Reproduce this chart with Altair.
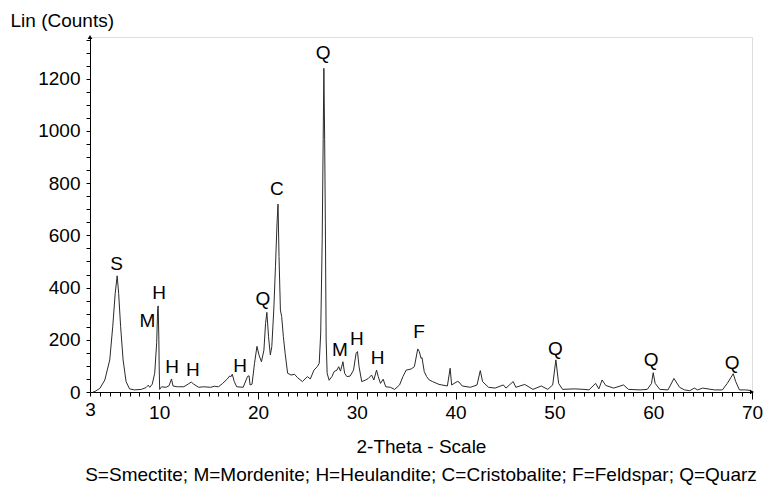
import altair as alt
import pandas as pd

# ---- data ----
two_theta = [3.3, 3.5, 4.0, 4.5, 5.0, 5.3, 5.55, 5.75, 5.9, 6.1, 6.35, 6.65, 7.0, 7.5, 8.2,
             8.67, 8.9, 9.05, 9.3, 9.55, 9.75, 9.85, 9.9, 9.97, 10.0, 10.05, 10.25, 10.7, 11.0,
             11.25, 11.4, 11.85, 12.5, 13.0, 13.25, 13.5, 14.0, 14.5, 15.2, 15.6, 16.0, 16.4,
             16.9, 17.15, 17.25, 17.4, 17.6, 17.85, 18.5, 18.95, 19.1, 19.2, 19.4, 19.65, 19.9,
             20.1, 20.35, 20.6, 20.77, 20.9, 21.07, 21.25, 21.4, 21.6, 21.77, 21.93, 22.03,
             22.13, 22.27, 22.4, 22.57, 22.75, 23.0, 23.35, 23.7, 24.0, 24.5, 25.0, 25.3, 25.67,
             26.0, 26.2, 26.35, 26.5, 26.6, 26.67, 26.75, 26.82, 26.9, 27.0, 27.2, 27.5, 27.7,
             28.0, 28.17, 28.35, 28.6, 28.77, 29.0, 29.33, 29.67, 29.93, 30.07, 30.23, 30.5,
             30.85, 31.17, 31.5, 31.73, 32.0, 32.17, 32.4, 32.67, 32.93, 33.4, 33.83, 34.33,
             34.67, 35.0, 35.5, 35.83, 36.17, 36.33, 36.5, 36.6, 36.83, 37.07, 37.33, 37.67,
             38.33, 39.17, 39.45, 39.6, 40.17, 40.35, 40.67, 41.5, 42.17, 42.5, 42.73, 43.33,
             44.0, 44.83, 45.1, 45.83, 46.1, 47.0, 47.83, 48.67, 49.33, 49.83, 50.15, 50.43,
             50.83, 52.0, 53.0, 53.5, 54.17, 54.5, 54.83, 55.2, 56.0, 57.0, 57.5, 58.67, 59.4,
             59.83, 60.0, 60.2, 60.67, 61.5, 62.1, 62.67, 63.17, 63.7, 64.17, 64.5, 65.0, 66.2,
             67.0, 67.5, 68.1, 68.35, 68.73, 69.33, 69.83]
counts = [0, 2, 14, 46, 123, 250, 378, 445, 378, 250, 123, 40, 12, 8, 10,
          17, 26, 18, 30, 72, 190, 320, 330, 200, 100, 10, 20, 18, 24,
          50, 23, 20, 20, 32, 38, 30, 18, 20, 18, 22, 20, 32,
          50, 62, 58, 68, 40, 20, 18, 60, 62, 27, 30, 110, 175,
          142, 116, 160, 263, 305, 212, 142, 174, 314, 480, 647, 720,
          519, 314, 289, 212, 148, 72, 65, 68, 55, 40, 59, 50, 84,
          97, 110, 226, 583, 966, 1240, 966, 647, 199, 72, 45, 60, 78,
          84, 97, 80, 116, 72, 59, 61, 84, 148, 155, 97, 40,
          45, 52, 65, 46, 84, 59, 33, 49, 20, 18, 10, 27,
          59, 84, 88, 97, 165, 155, 129, 132, 78, 59, 46, 40,
          29, 23, 91, 27, 40, 38, 23, 18, 27, 82, 40, 18,
          15, 27, 15, 40, 18, 29, 10, 23, 10, 27, 123, 33,
          10, 12, 10, 8, 33, 12, 46, 25, 15, 27, 10, 8, 10,
          33, 74, 33, 10, 8, 52, 18, 8, 5, 15, 8, 15, 8,
          8, 33, 70, 40, 8, 8, 6]

peak_labels = ["S", "M", "H", "H", "H", "H", "Q", "C", "Q", "M", "H", "H", "F", "Q", "Q", "Q"]
peak_x = [5.7, 8.8, 10.0, 11.3, 13.4, 18.2, 20.5, 21.9, 26.6, 28.3, 30.0, 32.1, 36.3, 50.1, 59.8, 68.0]
peak_y = [490, 272, 380, 96, 84, 100, 357, 778, 1300, 161, 203, 130, 230, 165, 123, 111]

x_label_values = [3, 10, 20, 30, 40, 50, 60, 70]
y_label_values = [0, 200, 400, 600, 800, 1000, 1200]
x_tick_values = list(range(3, 71))
y_tick_values = list(range(0, 1351, 50))

arrow_x = [3, 70]
arrow_y = [1360, 0]
arrow_shape = ["triangle-up", "triangle-right"]

caption = "S=Smectite; M=Mordenite; H=Heulandite; C=Cristobalite; F=Feldspar; Q=Quarz"

FONT = "Liberation Sans"
FS = 19

spec = pd.DataFrame({"theta": two_theta, "counts": counts})
labs = pd.DataFrame({"label": peak_labels, "theta": peak_x, "counts": peak_y})
arrows = pd.DataFrame({"theta": arrow_x, "counts": arrow_y, "shape": arrow_shape})

xscale = alt.Scale(domain=[3, 70], nice=False, zero=False)
yscale = alt.Scale(domain=[0, 1360], nice=False, zero=True)

x_label_expr = "indexof([" + ",".join(str(v) for v in x_label_values) + "], datum.value) >= 0 ? datum.label : ''"
y_label_expr = "indexof([" + ",".join(str(v) for v in y_label_values) + "], datum.value) >= 0 ? datum.label : ''"

xaxis = alt.Axis(
    values=x_tick_values,
    format="d",
    labelExpr=x_label_expr,
    labelOverlap=False,
    labelFlush=False,
    labelFont=FONT,
    labelFontSize=FS,
    labelColor="black",
    labelPadding=4,
    tickSize={"condition": {"test": "datum.value % 10 == 0", "value": 7}, "value": 4},
    tickColor="black",
    domainColor="black",
    grid=False,
    title="2-Theta - Scale",
    titleFont=FONT,
    titleFontSize=FS,
    titleFontWeight="normal",
    titleColor="black",
    titlePadding=15,
)

yaxis = alt.Axis(
    values=y_tick_values,
    format="d",
    labelExpr=y_label_expr,
    labelOverlap=False,
    labelFont=FONT,
    labelFontSize=FS,
    labelColor="black",
    labelPadding=6,
    tickSize=4,
    tickColor="black",
    domainColor="black",
    grid=False,
    title="Lin (Counts)",
    titleFont=FONT,
    titleFontSize=FS,
    titleFontWeight="normal",
    titleColor="black",
    titleAngle=0,
    titleAlign="left",
    titleBaseline="middle",
    titleX=-80,
    titleY=-17,
)

X = alt.X("theta:Q", scale=xscale, axis=xaxis)
Y = alt.Y("counts:Q", scale=yscale, axis=yaxis)

line = alt.Chart(spec).mark_line(color="#2a2a2a", strokeWidth=1).encode(x=X, y=Y)

text = alt.Chart(labs).mark_text(font=FONT, fontSize=FS, color="black", baseline="middle").encode(
    x=X, y=Y, text="label:N",
)

arrow_marks = alt.Chart(arrows).mark_point(filled=True, size=22, color="black", opacity=1).encode(
    x=X, y=Y, shape=alt.Shape("shape:N", scale=None),
)

chart = alt.layer(line, text, arrow_marks).properties(
    width=662,
    height=355,
    autosize=alt.AutoSizeParams(type="none"),
    padding={"left": 82, "top": 29, "right": 11, "bottom": 96},
    title=alt.TitleParams(
        text=caption,
        orient="bottom",
        anchor="middle",
        font=FONT,
        fontSize=FS,
        fontWeight="normal",
        color="black",
        offset=10,
    ),
).configure_view(strokeWidth=0, stroke="transparent").configure(background="white")

chart.save("out.html", embed_options={"renderer": "svg", "actions": False})
